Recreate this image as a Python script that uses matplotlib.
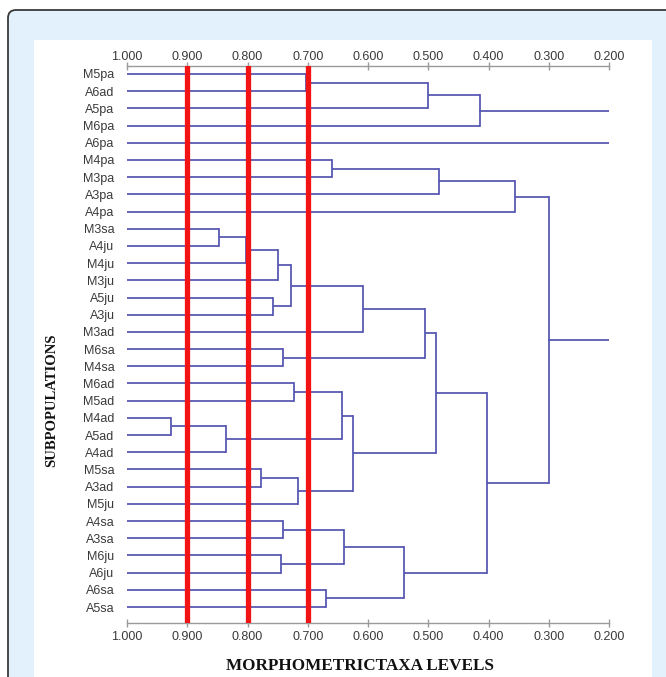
import matplotlib
matplotlib.use("Agg")
import matplotlib.pyplot as plt
from matplotlib.patches import FancyBboxPatch, Rectangle

# ---- data ----
leaves = ["M5pa", "A6ad", "A5pa", "M6pa", "A6pa", "M4pa", "M3pa", "A3pa", "A4pa",
          "M3sa", "A4ju", "M4ju", "M3ju", "A5ju", "A3ju", "M3ad", "M6sa", "M4sa",
          "M6ad", "M5ad", "M4ad", "A5ad", "A4ad", "M5sa", "A3ad", "M5ju", "A4sa",
          "A3sa", "M6ju", "A6ju", "A6sa", "A5sa"]
# each merge creates node id = len(leaves) + k
merge_left = [0, 32, 33, 5, 35, 36, 9, 38, 39, 13, 40, 42, 16, 43, 18, 20, 47, 46,
              23, 50, 49, 45, 26, 28, 54, 30, 56, 53, 37]
merge_right = [1, 2, 3, 6, 7, 8, 10, 11, 12, 14, 41, 15, 17, 44, 19, 21, 22, 48,
               24, 25, 51, 52, 27, 29, 55, 31, 57, 58, 59]
merge_level = [0.703, 0.500, 0.414, 0.659, 0.482, 0.356, 0.848, 0.802, 0.749,
               0.758, 0.728, 0.609, 0.741, 0.505, 0.722, 0.927, 0.836, 0.643,
               0.778, 0.717, 0.625, 0.487, 0.741, 0.744, 0.640, 0.670, 0.540,
               0.403, 0.300]
root_nodes = [34, 4, 60]
root_end = 0.200
cut_levels = [0.900, 0.800, 0.700]
x_ticks = [1.0, 0.9, 0.8, 0.7, 0.6, 0.5, 0.4, 0.3, 0.2]

W, H = 666, 677
fig = plt.figure(figsize=(W / 100, H / 100), dpi=100, facecolor="white")

# background frame
fig.patches.append(FancyBboxPatch((0.08, -0.5), 7.0, 6.67 + 0.5,
                                  boxstyle="round,pad=0,rounding_size=0.08",
                                  transform=fig.dpi_scale_trans, facecolor="#e2f1fb",
                                  edgecolor="#3a3a3a", linewidth=1.3, zorder=0))
fig.patches.append(Rectangle((0.34, -0.2), 6.52 - 0.34, 6.37 + 0.2,
                             transform=fig.dpi_scale_trans, facecolor="white",
                             edgecolor="none", zorder=0.5))

ax = fig.add_axes([127 / W, 1 - 623 / H, (609 - 127) / W, (623 - 66) / H])
ax.set_facecolor("none")
ax.set_zorder(3)

blue = "#5454b0"
lw = 1.25
n = len(leaves)
node_x = {i: 1.0 for i in range(n)}
node_y = {i: float(i) for i in range(n)}
for k, (a, b, lv) in enumerate(zip(merge_left, merge_right, merge_level)):
    nid = n + k
    ya, yb = node_y[a], node_y[b]
    ax.plot([node_x[a], lv], [ya, ya], color=blue, lw=lw, solid_capstyle="butt")
    ax.plot([node_x[b], lv], [yb, yb], color=blue, lw=lw, solid_capstyle="butt")
    ax.plot([lv, lv], [ya, yb], color=blue, lw=lw)
    node_x[nid] = lv
    node_y[nid] = (ya + yb) / 2
for r in root_nodes:
    ax.plot([node_x[r], root_end], [node_y[r], node_y[r]], color=blue, lw=lw)

for c in cut_levels:
    ax.axvline(c, color="#f21414", lw=3.8, zorder=5)

ax.set_xlim(1.0, 0.2)
ax.set_ylim(n - 1 + 0.93, -0.465)

tick_labels = [f"{v:.3f}" for v in x_ticks]
ax.set_xticks(x_ticks)
ax.set_xticklabels(tick_labels)
ax.set_yticks(range(n))
ax.set_yticklabels(leaves)
ax.tick_params(axis="y", length=0, pad=9, labelsize=9, labelcolor="#3a3a3a")
ax.tick_params(axis="x", direction="inout", length=6, width=1, color="#9a9a9a",
               labelsize=9, labelcolor="#3a3a3a", pad=3)
for lab in ax.get_xticklabels() + ax.get_yticklabels():
    lab.set_fontfamily("Liberation Sans")
for side in ["left", "right", "top"]:
    ax.spines[side].set_visible(False)
ax.spines["bottom"].set_color("#9a9a9a")
ax.spines["bottom"].set_linewidth(1.0)

top = ax.secondary_xaxis("top")
top.set_xticks(x_ticks)
top.set_xticklabels(tick_labels)
top.tick_params(axis="x", direction="inout", length=6, width=1, color="#9a9a9a",
                labelsize=9, labelcolor="#3a3a3a", pad=-1)
for lab in top.get_xticklabels():
    lab.set_fontfamily("Liberation Sans")
top.spines["top"].set_color("#9a9a9a")
top.spines["top"].set_linewidth(1.0)

fig.text(52 / W, 1 - 400 / H, "SUBPOPULATIONS", rotation=90, ha="center", va="center",
         fontsize=10.5, fontweight="bold", family="Liberation Serif", color="#111111",
         zorder=4)
fig.text(360 / W, 1 - 666 / H, "MORPHOMETRICTAXA LEVELS", ha="center", va="center",
         fontsize=12.3, fontweight="bold", family="Liberation Serif", color="#111111",
         zorder=4)

fig.savefig("out.png", dpi=100, facecolor=fig.get_facecolor())
